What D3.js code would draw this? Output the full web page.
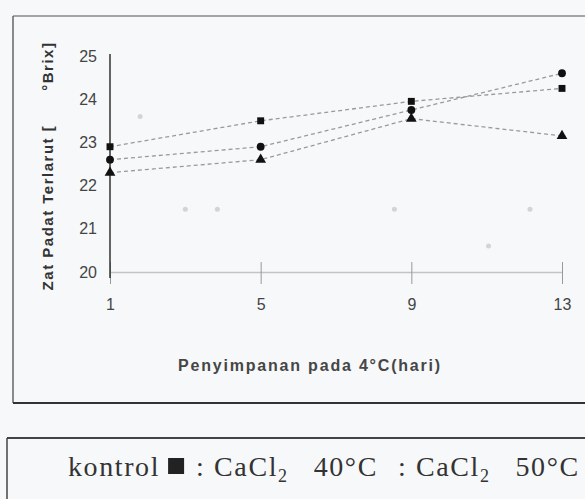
<!DOCTYPE html>
<html>
<head>
<meta charset="utf-8">
<script src="https://cdn.jsdelivr.net/npm/d3@7"></script>
<style>
  body { margin: 0; background: #f7f8fa; }
  svg { display: block; }
</style>
</head>
<body>
<div id="chart"></div>
<script>
// data
const days = [1, 5, 9, 13]
const kontrol = [22.9, 23.5, 23.95, 24.25]
const cacl40 = [22.6, 22.9, 23.75, 24.6]
const cacl50 = [22.3, 22.6, 23.55, 23.15]
const yTicks = [20, 21, 22, 23, 24, 25]
// faint specks left in the scan
const ghostDays = [1.8, 3.0, 3.85, 8.55, 11.05, 12.15]
const ghostVals = [23.6, 21.45, 21.45, 21.45, 20.6, 21.45]

const width = 585
const height = 499

const svg = d3.select('#chart')
  .append('svg')
  .attr('width', width)
  .attr('height', height)
  .style('background-color', '#f7f8fa')

const x = d3.scaleLinear().domain([1, 13]).range([110, 562])
const y = d3.scaleLinear().domain([20, 25]).range([272, 56])

// outer frame of the figure
svg.append('line').attr('x1', 13).attr('x2', width).attr('y1', 16).attr('y2', 16)
  .attr('stroke', '#888').attr('stroke-width', 1.5)
svg.append('line').attr('x1', 13).attr('x2', 13).attr('y1', 16).attr('y2', 403)
  .attr('stroke', '#666').attr('stroke-width', 1.5)
svg.append('line').attr('x1', 13).attr('x2', width).attr('y1', 403).attr('y2', 403)
  .attr('stroke', '#333').attr('stroke-width', 2)

// legend box
svg.append('line').attr('x1', 7).attr('x2', width).attr('y1', 438).attr('y2', 438)
  .attr('stroke', '#444').attr('stroke-width', 2)
svg.append('line').attr('x1', 7).attr('x2', 7).attr('y1', 438).attr('y2', height)
  .attr('stroke', '#444').attr('stroke-width', 1.5)

// x axis
const xAxis = svg.append('g')
  .attr('transform', `translate(0,${y(20)})`)
  .call(d3.axisBottom(x).tickValues(days).tickSize(0).tickPadding(27).tickFormat(d3.format('d')))
xAxis.select('.domain').attr('stroke', '#c4c4c4').attr('stroke-width', 1.5)
xAxis.selectAll('.tick line').attr('y1', -10).attr('y2', 12).attr('stroke', '#999')
xAxis.selectAll('.tick text')
  .attr('font-family', 'Liberation Sans, Arial, sans-serif')
  .attr('font-size', 16).attr('fill', '#444')

// y axis
const yAxis = svg.append('g')
  .attr('transform', `translate(${x(1)},0)`)
  .call(d3.axisLeft(y).tickValues(yTicks).tickSize(0).tickPadding(13).tickFormat(d3.format('d')))
yAxis.select('.domain')
  .attr('d', `M0,${y(25) - 2}V${y(20) + 6}`)
  .attr('stroke', '#333').attr('stroke-width', 1.5)
yAxis.selectAll('.tick text')
  .attr('font-family', 'Liberation Sans, Arial, sans-serif')
  .attr('font-size', 16).attr('fill', '#444')

// axis titles
svg.append('text')
  .attr('transform', `translate(53,166) rotate(-90)`)
  .attr('text-anchor', 'middle')
  .attr('font-family', 'Liberation Sans, Arial, sans-serif')
  .attr('font-size', 15).attr('font-weight', 'bold')
  .attr('letter-spacing', 1.5)
  .attr('fill', '#333')
  .style('white-space', 'pre')
  .text('Zat Padat Terlarut [      °Brix]')

svg.append('text')
  .attr('x', 310).attr('y', 371)
  .attr('text-anchor', 'middle')
  .attr('font-family', 'Liberation Sans, Arial, sans-serif')
  .attr('font-size', 16).attr('font-weight', 'bold')
  .attr('letter-spacing', 1.8)
  .attr('fill', '#464646')
  .text('Penyimpanan pada 4°C(hari)')

// faint specks
svg.selectAll('.ghost')
  .data(ghostDays)
  .enter()
  .append('circle')
  .attr('class', 'ghost')
  .attr('cx', d => x(d))
  .attr('cy', (d, i) => y(ghostVals[i]))
  .attr('r', 2.5)
  .attr('fill', '#d2d4d8')

// series
const series = [
  { name: 'kontrol', values: kontrol, symbol: d3.symbolSquare, size: 48 },
  { name: 'CaCl2 40', values: cacl40, symbol: d3.symbolCircle, size: 48 },
  { name: 'CaCl2 50', values: cacl50, symbol: d3.symbolTriangle, size: 50 }
]

const line = d3.line()
  .x((d, i) => x(days[i]))
  .y(d => y(d))

svg.selectAll('.series-line')
  .data(series)
  .enter()
  .append('path')
  .attr('class', 'series-line')
  .attr('d', d => line(d.values))
  .attr('fill', 'none')
  .attr('stroke', '#9a9a9a')
  .attr('stroke-width', 1.3)
  .attr('stroke-dasharray', '4,3')

series.forEach(s => {
  svg.selectAll(null)
    .data(s.values)
    .enter()
    .append('path')
    .attr('transform', (d, i) => `translate(${x(days[i])},${y(d)})`)
    .attr('d', d3.symbol().type(s.symbol).size(s.size))
    .attr('fill', '#111')
})

// legend line
const lg = svg.append('text')
  .attr('x', 68).attr('y', 476)
  .attr('font-family', 'Liberation Serif, Times New Roman, serif')
  .attr('font-size', 28)
  .attr('letter-spacing', 1.6)
  .attr('fill', '#333')
  .style('white-space', 'pre')
lg.append('tspan').text('kontrol')
lg.append('tspan').attr('dx', 36).text(': CaCl')
lg.append('tspan').attr('font-size', 18).attr('dy', 6).text('2')
lg.append('tspan').attr('dy', -6).attr('dx', 25).text('40°C')
lg.append('tspan').attr('dx', 20).text(': CaCl')
lg.append('tspan').attr('font-size', 18).attr('dy', 6).text('2')
lg.append('tspan').attr('dy', -6).attr('dx', 25).text('50°C')

const kw = lg.select('tspan').node().getComputedTextLength()
svg.append('rect')
  .attr('x', 68 + kw + 8).attr('y', 458)
  .attr('width', 16).attr('height', 16)
  .attr('fill', '#222')
</script>
</body>
</html>
